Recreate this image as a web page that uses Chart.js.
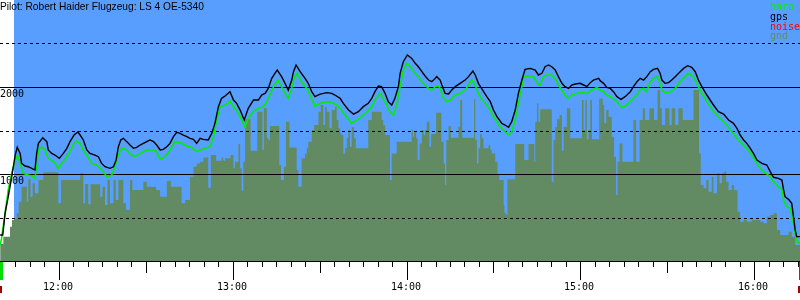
<!DOCTYPE html>
<html>
<head>
<meta charset="utf-8">
<script src="https://cdn.jsdelivr.net/npm/chart.js@4"></script>
<style>
  html, body { margin: 0; padding: 0; background: #fff; }
  canvas { display: block; }
</style>
</head>
<body>
<canvas id="flightChart" width="800" height="300"></canvas>
<script>
// times are minutes since midnight, altitudes in metres
const title = 'Pilot: Robert Haider Flugzeug: LS 4 OE-5340';
const legendLabels = ['baro', 'gps', 'noise', 'gnd'];
const hourLabels = ['12:00', '13:00', '14:00', '15:00', '16:00'];
const hourValues = [720, 780, 840, 900, 960];
const gridValues = [500, 1000, 1500, 2000, 2500];
const labelledValues = [1000, 2000];
const timeMin = 699.75;
const timeMax = 975.75;
const skyStart = 704.6;
const takeoffTime = 700.2;
const landingTime = 975.6;

const gpsTime = [
  699.8,700.7,701.5,702.6,703.8,705.0,705.7,706.7,707.2,708.4,709.5,710.7,711.8,712.4,713.0,714.5,715.9,716.4,717.6,718.7,
  720.2,721.6,722.8,723.9,725.3,726.6,727.4,728.5,729.7,730.8,732.5,733.7,734.8,736.0,737.7,738.9,739.8,740.6,741.4,742.3,
  743.5,744.6,745.8,746.9,748.1,749.2,750.4,751.5,752.7,753.8,755.0,756.1,757.3,758.4,759.6,760.7,761.9,763.0,764.2,765.3,
  766.5,767.6,
  768.8,769.9,771.6,772.8,773.9,775.1,776.2,777.4,778.5,779.1,780.3,781.4,782.6,784.0,785.4,787.2,788.9,790.0,791.2,792.3,
  793.5,794.6,795.4,796.9,798.1,799.2,800.4,801.0,801.9,803.3,805.0,806.1,807.3,808.4,810.2,812.5,814.2,815.3,817.1,818.2,
  820.0,821.7,823.4,825.1,826.8,828.0,829.1,830.3,831.4,832.6,833.7,834.9,836.0,837.2,
  837.8,838.9,840.3,841.8,843.0,844.1,845.3,846.4,847.6,848.7,849.9,850.4,851.6,852.2,853.3,854.5,855.6,856.8,858.5,860.2,
  861.4,862.9,863.7,864.8,866.6,867.7,868.9,870.0,871.2,872.9,874.0,875.2,876.3,877.5,878.6,879.8,880.9,882.7,884.4,885.5,
  886.7,887.8,889.0,890.1,891.3,892.4,893.6,894.7,895.9,897.0,898.2,899.9,901.1,902.2,903.4,904.5,906.3,
  906.8,908.0,909.1,910.3,911.4,912.6,914.0,915.4,917.2,918.3,919.5,920.6,921.8,922.9,924.1,925.2,926.6,927.5,928.1,929.2,
  930.4,931.5,932.7,934.4,935.6,937.0,938.4,939.6,940.7,941.9,943.6,945.9,947.6,949.4,951.1,952.8,954.0,955.1,956.3,957.4,
  958.6,959.7,960.9,962.6,964.3,965.5,966.6,968.3,969.5,970.1,970.6,971.8,972.9,973.5,974.1,974.6,975.8
];
const gpsAlt = [
  299,299,548,739,969,1218,1306,1237,1122,1092,1084,1065,1046,1237,1352,1417,1372,1276,1237,1218,
  1180,1237,1295,1372,1448,1483,1448,1391,1276,1237,1218,1199,1122,1084,1065,1084,1161,1314,1391,1410,
  1372,1333,1295,1306,1333,1352,1372,1391,1372,1333,1276,1283,1314,1352,1429,1479,1467,1448,1429,1410,
  1398,1352,
  1410,1398,1391,1467,1582,1774,1870,1896,1927,1946,1850,1812,1735,1620,1755,1850,1850,1908,1927,1984,
  2099,2157,2195,2119,2042,1965,2080,2176,2253,2176,2099,2042,1946,1889,1919,1935,1927,1908,1870,1812,
  1735,1689,1716,1774,1812,1870,1946,2011,2004,1927,1831,1793,1870,2004,
  2157,2291,2368,2329,2272,2233,2176,2126,2080,2061,2099,2119,2080,2023,1927,1919,1965,2004,2042,2080,
  2119,2184,2138,2042,1946,1889,1831,1735,1659,1582,1563,1536,1601,1735,1927,2080,2203,2214,2195,2138,
  2157,2233,2253,2233,2195,2119,2042,2004,1984,2023,2034,2042,2023,2004,2050,2080,2099,
  2073,2042,1996,1984,1946,1889,1858,1889,1946,2004,2061,2099,2080,2119,2176,2203,2214,2157,2080,2042,
  2050,2080,2119,2176,2214,2245,2226,2176,2080,2004,1908,1793,1716,1689,1621,1582,1525,1448,1391,1352,
  1295,1237,1161,1122,1103,1027,962,950,931,816,739,709,663,510,356,280,280
];

const baroTime = [
  699.8,700.3,701.5,702.6,703.8,705.0,705.7,706.7,707.8,709.5,711.3,711.8,712.4,713.0,714.1,715.3,716.4,718.2,719.9,721.0,
  722.8,723.9,725.1,726.2,727.4,728.5,729.7,731.4,733.1,734.3,735.4,736.6,738.3,739.4,740.6,741.7,743.5,745.2,746.3,748.1,
  750.4,752.7,753.8,755.0,756.7,758.4,760.1,762.4,764.2,765.9,767.6,
  768.8,770.5,772.2,773.4,774.5,775.7,777.4,779.1,780.3,781.4,782.6,784.3,785.4,787.2,788.9,790.6,791.8,792.9,794.1,795.6,
  796.9,798.1,799.2,800.4,801.2,802.1,803.8,805.6,806.7,808.4,810.2,812.5,814.2,815.9,817.1,818.8,821.1,822.8,824.5,826.3,
  828.0,829.1,830.9,832.6,834.3,835.5,836.6,
  837.8,838.9,840.1,841.3,843.0,844.1,845.3,846.4,847.6,848.7,849.9,851.0,851.6,852.8,853.9,855.1,856.8,858.5,860.2,861.4,
  862.5,863.7,864.8,866.6,867.7,868.9,870.0,871.2,872.3,874.0,875.2,876.3,877.5,878.6,879.8,880.4,882.1,883.8,885.2,886.1,
  887.3,888.4,890.1,891.3,892.4,893.6,894.7,895.9,897.0,898.8,900.5,902.2,903.9,905.7,
  906.8,908.0,909.1,910.3,912.0,913.1,914.3,916.0,917.7,919.5,920.6,921.8,922.9,923.8,925.2,926.6,927.5,928.1,929.2,931.0,
  932.7,934.4,936.1,937.3,939.0,940.2,941.3,943.0,944.8,946.5,948.8,950.5,952.3,954.0,955.7,957.4,959.1,960.3,962.0,963.7,
  965.5,966.6,968.3,969.5,970.1,971.2,972.4,973.3,974.1,974.6,975.8
];
const baroAlt = [
  184,260,548,816,1008,1161,1218,1122,1008,988,969,950,1084,1276,1314,1276,1180,1142,1065,1122,
  1199,1257,1345,1379,1352,1276,1218,1122,1103,1065,1027,969,988,1084,1218,1295,1276,1218,1199,1237,
  1276,1276,1257,1168,1199,1276,1371,1352,1322,1306,1257,
  1276,1295,1314,1429,1620,1774,1793,1839,1774,1735,1659,1536,1640,1716,1755,1774,1831,1908,2004,2080,
  2004,1927,1870,1984,2099,2157,2061,1984,1908,1781,1812,1831,1824,1793,1755,1678,1582,1620,1659,1716,
  1774,1850,1927,1831,1716,1678,1793,
  2004,2195,2272,2233,2157,2119,2061,2023,1984,1965,2004,2011,1984,1870,1831,1850,1908,1927,1965,2023,
  2080,2023,1927,1831,1793,1735,1659,1601,1544,1486,1448,1486,1620,1812,2004,2119,2130,2119,2042,2023,
  2119,2138,2138,2099,2023,1965,1908,1870,1908,1927,1935,1927,1965,1996,
  1965,1946,1908,1889,1850,1812,1762,1793,1850,1908,1973,1984,1946,2042,2099,2119,2042,1965,1935,1946,
  1984,2061,2119,2157,2119,2042,1965,1870,1774,1697,1620,1563,1486,1410,1352,1295,1218,1161,1065,1015,
  969,912,854,816,701,624,605,471,318,222,203
];

const gndTime = [
  699.8,700.9,703.2,703.9,704.6,705.5,706.2,707.2,709.0,709.5,710.3,711.0,711.8,713.0,714.7,719.9,720.8,727.4,728.5,729.1,
  730.2,731.0,734.3,735.1,736.0,736.8,737.7,738.9,739.7,740.6,742.3,743.2,744.6,745.4,749.2,750.4,753.6,755.0,757.3,758.7,
  762.4,763.6,765.3,766.5,767.6,
  768.8,769.9,771.6,772.5,774.3,776.2,776.8,777.4,779.3,780.3,780.8,782.0,782.6,783.1,783.7,784.3,786.2,788.5,790.3,790.8,
  791.8,792.3,792.9,796.1,796.7,797.7,798.4,799.6,802.1,802.7,803.8,805.0,805.6,806.1,807.3,808.1,809.6,810.4,811.3,811.9,
  812.5,813.4,814.2,815.3,815.9,816.5,817.1,817.6,818.2,818.8,819.4,819.9,820.5,821.1,821.9,822.5,826.8,828.0,831.4,832.0,
  832.6,834.3,834.9,836.6,
  837.8,841.8,842.2,842.6,843.3,843.8,844.5,845.3,845.9,846.4,847.0,847.9,848.5,850.2,852.0,852.8,853.3,853.7,854.5,855.3,
  857.9,858.5,859.2,863.3,863.7,864.3,864.8,865.4,866.0,866.6,868.3,868.9,869.4,870.6,871.4,872.0,873.5,873.8,874.4,874.8,
  877.5,880.6,882.1,884.1,884.4,885.0,885.5,886.1,890.1,890.7,891.3,891.9,892.8,893.6,894.2,895.3,896.5,900.5,901.1,901.7,
  902.2,902.8,903.4,904.0,906.4,906.7,
  906.8,907.7,908.2,908.9,909.7,910.8,911.6,912.3,912.8,913.5,914.5,918.3,919.2,920.4,921.5,922.3,923.8,925.4,926.6,927.5,
  928.1,929.2,930.7,931.5,932.7,933.8,935.3,939.0,940.9,941.5,942.5,943.4,944.2,945.3,945.9,947.1,948.0,948.8,949.6,950.3,
  951.1,952.2,953.0,954.2,955.1,956.3,957.4,959.1,962.0,963.2,964.3,965.5,966.6,967.8,968.9,971.8,972.9,974.1,975.8
];
const gndAlt = [
  195,280,395,471,483,548,682,854,682,939,739,893,778,931,1019,663,931,1008,663,885,
  651,881,739,854,644,931,663,931,701,931,663,586,931,816,912,854,816,739,919,854,
  663,701,969,1084,1122,
  1142,1191,843,1218,1153,1191,1153,1180,1218,1065,1142,1345,1065,808,1142,1628,1268,1716,1276,1755,
  1410,1391,1552,1103,931,1084,1601,1306,1046,854,1180,1237,1295,1371,1506,1563,1716,1793,1563,1774,
  1716,1525,1735,1774,1620,1525,1467,1448,1237,1295,1410,1506,1314,1536,1410,1295,1620,1716,1620,1563,
  1448,931,1237,1371,
  1371,1513,1429,1486,1410,1161,1352,1506,1448,1506,1601,1314,1460,1705,1371,1122,873,1391,1552,1417,
  1544,1850,1417,1858,1391,1122,1295,1456,1410,1295,1333,1276,1237,1142,988,931,644,548,529,939,
  1345,1161,1345,1142,1601,1812,1601,1743,912,1391,1536,1628,1678,1268,1544,1755,1410,1850,1506,1850,
  1398,1506,1850,1398,1858,1391,
  1869,1793,1582,1735,1659,1429,1199,759,1142,1352,1142,1620,1142,1620,1755,1620,1755,1620,1965,1755,
  1563,1755,1563,1755,1563,1755,1620,1965,1237,873,835,931,797,969,778,1008,893,1008,1027,912,
  816,873,816,567,452,471,452,471,452,433,510,529,548,356,299,337,280,184,184
];

const SKY = '#589eff';
const GND = '#638b63';
const BARO = '#00ee00';
const legendColors = [BARO, '#000000', '#ff0000', GND];
const MONO = '10px "DejaVu Sans Mono", monospace';

function pairs(times, values) {
  return times.map((t, i) => ({ x: t, y: values[i] }));
}

const decor = {
  id: 'decor',
  beforeDraw(chart) {
    const ctx = chart.ctx;
    ctx.save();
    ctx.fillStyle = '#ffffff';
    ctx.fillRect(0, 0, chart.width, chart.height);
    ctx.restore();
  },
  beforeDatasetsDraw(chart) {
    const { ctx, chartArea: a } = chart;
    const x0 = Math.round(chart.scales.x.getPixelForValue(skyStart));
    ctx.save();
    ctx.fillStyle = SKY;
    ctx.fillRect(x0, a.top, a.right - x0, a.bottom - a.top);
    ctx.restore();
  },
  afterDatasetDraw(chart, args) {
    if (args.index !== 0) return;
    // grid sits above the ground, below the lines
    const { ctx, chartArea: a } = chart;
    const y = chart.scales.y;
    ctx.save();
    ctx.strokeStyle = '#000';
    ctx.lineWidth = 1;
    ctx.font = MONO;
    ctx.fillStyle = '#000';
    gridValues.forEach(v => {
      const py = Math.round(y.getPixelForValue(v)) + 0.5;
      const solid = labelledValues.includes(v);
      ctx.setLineDash(solid ? [] : [3, 3]);
      ctx.beginPath();
      ctx.moveTo(a.left, py);
      ctx.lineTo(a.right, py);
      ctx.stroke();
      if (solid) ctx.fillText(String(v), 0, py + 9.5);
    });
    ctx.restore();
  },
  afterDraw(chart) {
    const { ctx, chartArea: a } = chart;
    const x = chart.scales.x;
    ctx.save();
    // time axis
    ctx.strokeStyle = '#000';
    ctx.lineWidth = 1;
    ctx.beginPath();
    ctx.moveTo(0, a.bottom + 0.5);
    ctx.lineTo(chart.width, a.bottom + 0.5);
    ctx.stroke();
    for (let m = 700; m <= timeMax; m += 5) {
      const px = Math.round(x.getPixelForValue(m)) + 0.5;
      const len = m % 60 === 0 ? 19 : (m % 30 === 0 ? 12 : 6);
      ctx.beginPath();
      ctx.moveTo(px, a.bottom);
      ctx.lineTo(px, a.bottom + len);
      ctx.stroke();
    }
    ctx.font = MONO;
    ctx.fillStyle = '#000';
    ctx.textAlign = 'center';
    hourValues.forEach((m, i) => {
      ctx.fillText(hourLabels[i], Math.round(x.getPixelForValue(m)) - 1, a.bottom + 29);
    });
    // takeoff / landing marks
    const marks = [[takeoffTime, '#00dd00'], [landingTime, '#ff0000']];
    marks.forEach(([t, c]) => {
      const px = Math.round(x.getPixelForValue(t));
      ctx.fillStyle = c;
      ctx.fillRect(px - 1, a.bottom + 1, 3, 18);
      ctx.fillStyle = '#aa0000';
      ctx.fillRect(px - 2, a.bottom + 25, 3, 7);
    });
    // legend
    ctx.textAlign = 'left';
    legendLabels.forEach((lab, i) => {
      ctx.fillStyle = legendColors[i];
      ctx.fillText(lab, 770, 10 + i * 9.8);
    });
    // title
    ctx.fillStyle = '#000';
    ctx.font = '10.2px "Liberation Sans", Arial, sans-serif';
    ctx.fillText(title, 0, 9.5);
    ctx.restore();
  }
};

new Chart(document.getElementById('flightChart').getContext('2d'), {
  type: 'line',
  data: {
    datasets: [
      {
        label: 'gnd',
        data: pairs(gndTime, gndAlt),
        stepped: true,
        borderWidth: 0,
        backgroundColor: GND,
        fill: 'origin',
        pointRadius: 0,
        order: 3
      },
      {
        label: 'baro',
        data: pairs(baroTime, baroAlt),
        borderColor: BARO,
        borderWidth: 1.6,
        fill: false,
        pointRadius: 0,
        tension: 0,
        order: 2
      },
      {
        label: 'gps',
        data: pairs(gpsTime, gpsAlt),
        borderColor: '#000000',
        borderWidth: 1.4,
        fill: false,
        pointRadius: 0,
        tension: 0,
        order: 1
      }
    ]
  },
  options: {
    responsive: false,
    animation: false,
    devicePixelRatio: 1,
    layout: { padding: { left: 0, right: 0, top: 0, bottom: 39 } },
    scales: {
      x: { type: 'linear', min: timeMin, max: timeMax, display: false },
      y: { min: 0, max: 3000, display: false }
    },
    plugins: {
      legend: { display: false },
      tooltip: { enabled: false }
    }
  },
  plugins: [decor]
});
</script>
</body>
</html>
